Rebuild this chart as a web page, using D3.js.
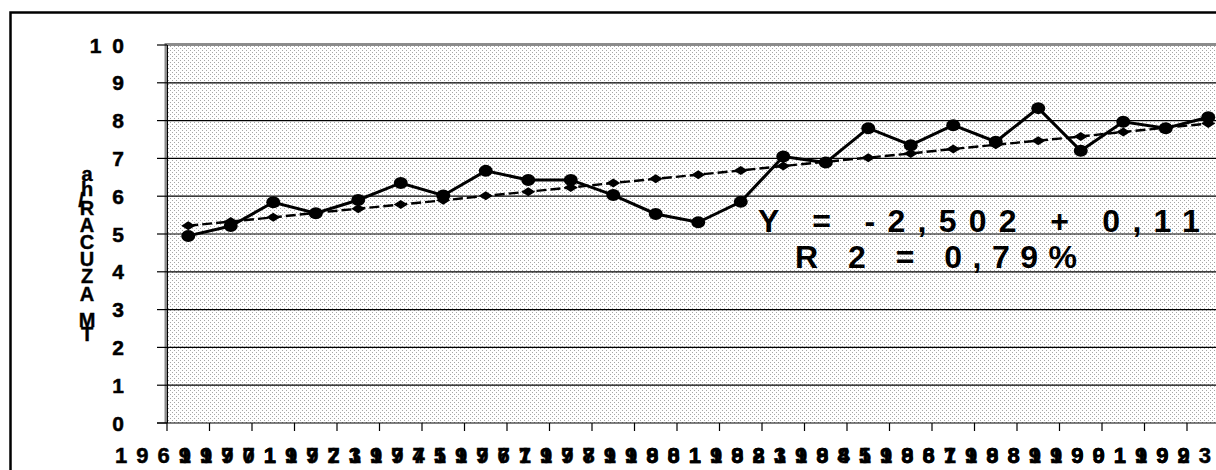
<!DOCTYPE html>
<html>
<head>
<meta charset="utf-8">
<script src="https://cdn.jsdelivr.net/npm/d3@7"></script>
<style>
  body { margin: 0; background: #fff; }
  svg { display: block; font-family: Arial, "Liberation Sans", sans-serif; }
</style>
</head>
<body>
<script>
// years on the category axis
var years = [1969, 1970, 1971, 1972, 1973, 1974, 1975, 1976, 1977, 1978, 1979, 1980,
             1981, 1982, 1983, 1984, 1985, 1986, 1987, 1988, 1989, 1990, 1991, 1992, 1993];
// observed yield (solid line, circles)
var actual = [4.95, 5.21, 5.84, 5.55, 5.9, 6.35, 6.02, 6.67, 6.43, 6.43, 6.03, 5.53,
              5.31, 5.85, 7.05, 6.89, 7.8, 7.35, 7.88, 7.44, 8.33, 7.2, 7.97, 7.8, 8.09];
// trend (dashed line, diamonds)
var trend = [5.22, 5.33, 5.44, 5.56, 5.67, 5.78, 5.89, 6.01, 6.12, 6.23, 6.35, 6.46,
             6.57, 6.68, 6.8, 6.91, 7.02, 7.13, 7.25, 7.36, 7.47, 7.58, 7.7, 7.81, 7.92];
var yTicks = [0, 1, 2, 3, 4, 5, 6, 7, 8, 9, 10];
var titleChars = ["a", "h", "/", "R", "A", "C", "U", "Z", "A", "M", "T"];
var eqLine1 = "Y = -2,502 + 0,11";
var eqLine2 = "R 2 = 0,79%";

var W = 1216, H = 470;
var svg = d3.select("body").append("svg").attr("width", W).attr("height", H);

var pat = svg.append("defs").append("pattern")
  .attr("id", "dots").attr("width", 4).attr("height", 4)
  .attr("patternUnits", "userSpaceOnUse");
pat.append("rect").attr("width", 4).attr("height", 4).attr("fill", "#fff");
pat.append("rect").attr("x", 0).attr("y", 0).attr("width", 1).attr("height", 1).attr("fill", "#a6a6a6");
pat.append("rect").attr("x", 2).attr("y", 2).attr("width", 1).attr("height", 1).attr("fill", "#a6a6a6");

var x = d3.scaleBand().domain(years).range([167, 1229.5]);
var y = d3.scaleLinear().domain([0, 10]).range([423, 45]);
var bw = x.bandwidth();

// outer frame
svg.append("rect").attr("x", 10.5).attr("y", 12.5).attr("width", 1240).attr("height", 480)
  .attr("fill", "none").attr("stroke", "#000").attr("stroke-width", 2.5);

// plot area
svg.append("rect").attr("x", 167).attr("y", y(10)).attr("width", 1229.5 - 167).attr("height", y(0) - y(10))
  .attr("fill", "url(#dots)");

// gridlines
svg.selectAll("line.grid").data(yTicks.slice(1)).enter().append("line")
  .attr("class", "grid")
  .attr("x1", 167).attr("x2", 1229.5)
  .attr("y1", function(d) { return y(d); }).attr("y2", function(d) { return y(d); })
  .attr("stroke", "#000").attr("stroke-width", 1.2);

// gray plot border top and left
svg.append("line").attr("x1", 165).attr("x2", 1229.5).attr("y1", y(10) - 0.5).attr("y2", y(10) - 0.5)
  .attr("stroke", "#8c8c8c").attr("stroke-width", 3);
svg.append("line").attr("x1", 166).attr("x2", 166).attr("y1", y(10) - 2).attr("y2", y(0))
  .attr("stroke", "#8c8c8c").attr("stroke-width", 3);
svg.append("line").attr("x1", 167.5).attr("x2", 167.5).attr("y1", y(10)).attr("y2", y(0))
  .attr("stroke", "#000").attr("stroke-width", 1);
// bottom axis line
svg.append("line").attr("x1", 157).attr("x2", 1229.5).attr("y1", y(0)).attr("y2", y(0))
  .attr("stroke", "#000").attr("stroke-width", 1.2);

// y ticks and labels
svg.selectAll("line.ytick").data(yTicks).enter().append("line")
  .attr("class", "ytick")
  .attr("x1", 157).attr("x2", 167)
  .attr("y1", function(d) { return y(d); }).attr("y2", function(d) { return y(d); })
  .attr("stroke", "#000").attr("stroke-width", 1.2);
var ls = 11;
svg.selectAll("text.ylab").data(yTicks).enter().append("text")
  .attr("class", "ylab")
  .attr("x", 124 + ls).attr("y", function(d) { return y(d) + 7.5; })
  .attr("text-anchor", "end")
  .attr("font-size", 21).attr("font-weight", "bold")
  .attr("stroke", "#000").attr("stroke-width", 0.5)
  .style("letter-spacing", ls + "px")
  .text(function(d) { return d; });

// x ticks between categories
svg.selectAll("line.xtick").data(years).enter().append("line")
  .attr("class", "xtick")
  .attr("x1", function(d) { return x(d); }).attr("x2", function(d) { return x(d); })
  .attr("y1", y(0)).attr("y2", y(0) + 8)
  .attr("stroke", "#000").attr("stroke-width", 1.2);

// x labels: widely spaced digits that overlap their neighbours
svg.selectAll("text.xlab").data(years).enter().append("text")
  .attr("class", "xlab")
  .attr("x", function(d, i) { return x(d) - 52 + (i % 2 ? bw / 2 : 0); })
  .attr("y", 463)
  .attr("font-size", 22).attr("font-weight", "bold")
  .attr("stroke", "#000").attr("stroke-width", 0.5)
  .style("letter-spacing", (bw / 2 - 12.23) + "px")
  .text(function(d) { return d; });

// y axis title, stacked letters
var titleY = [174, 189, 200, 208, 225, 242, 259, 276, 294, 320, 334];
svg.selectAll("text.ytitle").data(titleChars).enter().append("text")
  .attr("class", "ytitle")
  .attr("x", function(d) { return d === "/" ? 81 : 87; })
  .attr("y", function(d, i) { return titleY[i] + 7; })
  .attr("text-anchor", "middle")
  .attr("font-size", 20).attr("font-weight", "bold")
  .attr("stroke", "#000").attr("stroke-width", 0.4)
  .text(function(d) { return d; });

var cx = function(d, i) { return x(years[i]) + bw / 2; };

// trend line
svg.append("path").datum(trend)
  .attr("fill", "none").attr("stroke", "#000").attr("stroke-width", 2.4)
  .attr("stroke-dasharray", "10,4")
  .attr("d", d3.line().x(cx).y(function(d) { return y(d); }));
svg.selectAll("path.dia").data(trend).enter().append("path")
  .attr("class", "dia")
  .attr("transform", function(d, i) { return "translate(" + cx(d, i) + "," + y(d) + ")"; })
  .attr("d", "M-7,0L0,-4.5L7,0L0,4.5Z").attr("fill", "#000");

// actual line
svg.append("path").datum(actual)
  .attr("fill", "none").attr("stroke", "#000").attr("stroke-width", 3)
  .attr("d", d3.line().x(cx).y(function(d) { return y(d); }));
svg.selectAll("ellipse.pt").data(actual).enter().append("ellipse")
  .attr("class", "pt")
  .attr("cx", cx).attr("cy", function(d) { return y(d); })
  .attr("rx", 7).attr("ry", 6).attr("fill", "#000");

// regression text
svg.append("text").attr("x", 758).attr("y", 232)
  .attr("font-size", 32).attr("font-weight", "bold")
  .style("letter-spacing", "12.3px")
  .text(eqLine1);
svg.append("text").attr("x", 795).attr("y", 268)
  .attr("font-size", 32).attr("font-weight", "bold")
  .style("letter-spacing", "10.5px")
  .text(eqLine2);
</script>
</body>
</html>
